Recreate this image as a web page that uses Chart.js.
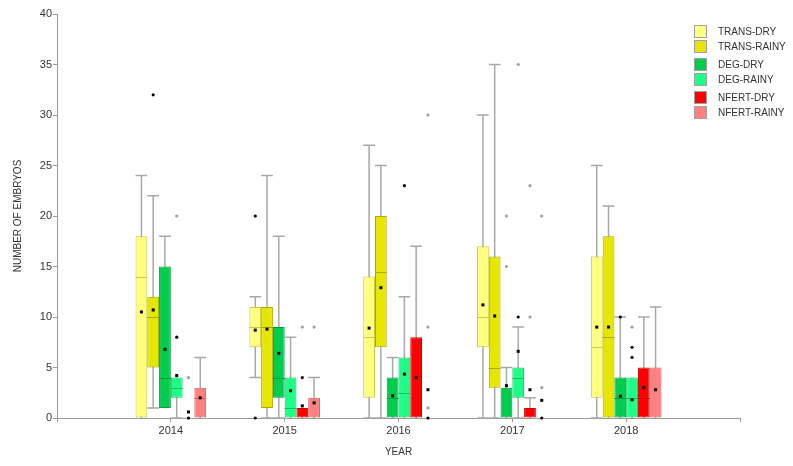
<!DOCTYPE html>
<html>
<head>
<meta charset="utf-8">
<script src="https://cdn.jsdelivr.net/npm/chart.js@4.4.1/dist/chart.umd.min.js"></script>
<style>
  html, body { margin: 0; padding: 0; background: #fff; }
  #wrap { position: relative; width: 793px; height: 466px; }
  #legend { position: absolute; left: 694px; top: 24px; font-family: "Liberation Sans", Arial, sans-serif; font-size: 10px; color: #333; }
  .item { display: flex; align-items: center; height: 15px; }
  .item.gap { margin-bottom: 3px; }
  .sw { width: 11px; height: 11px; border: 1px solid #a0a0a0; margin-right: 11px; box-sizing: content-box; }
</style>
</head>
<body>
<div id="wrap">
  <canvas id="c" width="793" height="466"></canvas>
  <div id="legend"></div>
</div>
<script>
// ---- data ----
const years = [2014, 2015, 2016, 2017, 2018];
const seriesNames = ['TRANS-DRY', 'TRANS-RAINY', 'DEG-DRY', 'DEG-RAINY', 'NFERT-DRY', 'NFERT-RAINY'];
const yTicks = [0, 5, 10, 15, 20, 25, 30, 35, 40];

// each row: [lower whisker, Q1, median, Q3, upper whisker, mean]
const transDry   = [[0,0,14,18,24,10.5],[4,7,9,11,12,8.7],[0,2,8,14,27,8.9],[0,7,10,17,30,11.2],[0,2,7,16,25,9.0]];
const transRainy = [[1,5,10,12,22,10.7],[0,1,9,11,24,8.8],[0,7,14.5,20,25,12.9],[0,3,5,16,35,10.1],[0,0,8,18,21,9.0]];
const degDry     = [[1,1,4,15,18,6.8],[0,2,4,9,18,6.4],[0,0,2,4,6,2.2],[0,0,0,3,5,3.2],[0,0,2,4,10,2.15]];
const degRainy   = [[0,2,3,4,4,4.2],[0,0,1,4,8,2.7],[0,0,2.5,6,12,4.35],[0,2,4,5,9,6.6],[0,0,2,4,4,1.8]];
const nfertDry   = [[0,0,0,0,0,0.6],[0,0,0,1,1,1.2],[0,0,0,8,17,4.0],[0,0,0,1,2,2.8],[0,0,2,5,10,3.0]];
const nfertRainy = [[0,0,2,3,6,2.0],[0,0,0,2,4,1.5],[0,0,0,0,0,2.8],[0,0,0,0,0,1.75],[0,0,0,5,11,2.8]];

// outliers per year: mild (grey) and far (black)
const transDryMild   = [[],[],[],[],[]];
const transDryFar    = [[],[20,0],[],[],[]];
const transRainyMild = [[],[],[],[],[]];
const transRainyFar  = [[32],[],[],[],[]];
const degDryMild     = [[],[],[],[20,15],[]];
const degDryFar      = [[],[],[],[],[10]];
const degRainyMild   = [[20],[],[],[35],[9]];
const degRainyFar    = [[8],[],[23],[10],[7,6]];
const nfertDryMild   = [[4],[9],[],[23,10],[]];
const nfertDryFar    = [[0],[4],[],[],[]];
const nfertRainyMild = [[],[9],[30,9,1],[20,3],[]];
const nfertRainyFar  = [[],[],[0],[0],[]];

const fills   = ['#FFFF80', '#E6E600', '#00CC4E', '#1EFF88', '#FF0000', '#FF8080'];
const borders = ['#C8C848', '#A8A800', '#009A38', '#10C060', '#C80000', '#D06060'];

const stats = [transDry, transRainy, degDry, degRainy, nfertDry, nfertRainy];
const milds = [transDryMild, transRainyMild, degDryMild, degRainyMild, nfertDryMild, nfertRainyMild];
const fars  = [transDryFar, transRainyFar, degDryFar, degRainyFar, nfertDryFar, nfertRainyFar];

const datasets = seriesNames.map((name, i) => ({
  label: name,
  data: years.map((yr, j) => ({ x: yr, y: [stats[i][j][1], stats[i][j][3]] })),
  backgroundColor: fills[i],
  borderColor: borders[i],
  borderWidth: 1,
  borderSkipped: false,
  categoryPercentage: 0.62,
  barPercentage: 1.0,
  boxStats: stats[i],
  mild: milds[i],
  far: fars[i]
}));

const whiskerColor = '#a8a8a8';

const boxPlugin = {
  id: 'boxplot',
  beforeDatasetsDraw(chart) {
    const ctx = chart.ctx, ys = chart.scales.y;
    ctx.save();
    ctx.strokeStyle = whiskerColor;
    ctx.lineWidth = 1.5;
    chart.data.datasets.forEach((ds, i) => {
      chart.getDatasetMeta(i).data.forEach((bar, j) => {
        const s = ds.boxStats[j];
        const x = bar.x, hw = bar.width / 2;
        const pLow = ys.getPixelForValue(s[0]);
        const pHigh = ys.getPixelForValue(s[4]);
        ctx.beginPath();
        ctx.moveTo(x, pLow); ctx.lineTo(x, pHigh);
        if (s[4] > s[3]) { ctx.moveTo(x - hw, pHigh); ctx.lineTo(x + hw, pHigh); }
        if (s[0] < s[1]) { ctx.moveTo(x - hw, pLow); ctx.lineTo(x + hw, pLow); }
        ctx.stroke();
      });
    });
    ctx.restore();
  },
  afterDatasetsDraw(chart) {
    const ctx = chart.ctx, ys = chart.scales.y;
    ctx.save();
    chart.data.datasets.forEach((ds, i) => {
      chart.getDatasetMeta(i).data.forEach((bar, j) => {
        const s = ds.boxStats[j];
        const x = bar.x, hw = bar.width / 2;
        if (s[3] > s[1] && s[2] > s[1] && s[2] < s[3] || (s[2] === s[1] && s[3] > s[1] && s[2] > 0)) {
          const pm = Math.round(ys.getPixelForValue(s[2])) + 0.5;
          ctx.strokeStyle = ds.borderColor;
          ctx.lineWidth = 1;
          ctx.beginPath();
          ctx.moveTo(x - hw, pm); ctx.lineTo(x + hw, pm);
          ctx.stroke();
        }
        ds.mild[j].forEach(v => {
          ctx.fillStyle = '#a0a0a0';
          ctx.beginPath(); ctx.arc(x, ys.getPixelForValue(v), 1.6, 0, Math.PI * 2); ctx.fill();
        });
        ds.far[j].forEach(v => {
          ctx.fillStyle = '#000';
          ctx.beginPath(); ctx.arc(x, ys.getPixelForValue(v), 1.6, 0, Math.PI * 2); ctx.fill();
        });
        const pMean = ys.getPixelForValue(s[5]);
        ctx.fillStyle = '#000';
        ctx.fillRect(x - 1.5, pMean - 1.5, 3, 3);
      });
    });
    ctx.restore();
  }
};

const tickFont = { family: '"Liberation Sans", Arial, sans-serif', size: 11 };
const titleFont = { family: '"Liberation Sans", Arial, sans-serif', size: 10 };

new Chart(document.getElementById('c'), {
  type: 'bar',
  data: { datasets },
  options: {
    responsive: false,
    animation: false,
    layout: { padding: { top: 14, right: 53, left: 0, bottom: 0 } },
    plugins: { legend: { display: false }, tooltip: { enabled: false } },
    scales: {
      x: {
        type: 'linear',
        min: 2013, max: 2019,
        offset: false,
        afterBuildTicks(scale) { scale.ticks = [2013,2014,2015,2016,2017,2018,2019].map(v => ({ value: v })); },
        afterFit(scale) { scale.height = 48; },
        ticks: {
          stepSize: 1,
          autoSkip: false,
          maxRotation: 0,
          padding: 2,
          color: '#333',
          font: tickFont,
          callback: v => (years.includes(v) ? String(v) : '')
        },
        grid: { offset: false, drawOnChartArea: false, drawTicks: true, tickLength: 4, color: '#9a9a9a' },
        border: { color: '#9a9a9a', width: 1 },
        title: { display: true, text: 'YEAR', color: '#333', font: titleFont, padding: { top: 0, bottom: 8 } }
      },
      y: {
        min: 0, max: 40,
        afterBuildTicks(scale) { scale.ticks = yTicks.map(v => ({ value: v })); },
        afterFit(scale) { scale.width = 57; },
        ticks: { padding: 1, color: '#333', font: tickFont },
        grid: { drawOnChartArea: false, drawTicks: true, tickLength: 4, color: '#9a9a9a' },
        border: { color: '#9a9a9a', width: 1 },
        title: { display: true, text: 'NUMBER OF EMBRYOS', color: '#333', font: titleFont, padding: { top: 12, bottom: 0 } }
      }
    }
  },
  plugins: [boxPlugin]
});

// legend as real text, built from the same series names and colours
const legend = document.getElementById('legend');
seriesNames.forEach((name, i) => {
  const it = document.createElement('div');
  it.className = 'item' + (i % 2 === 1 ? ' gap' : '');
  const sw = document.createElement('div');
  sw.className = 'sw';
  sw.style.background = fills[i];
  const tx = document.createElement('span');
  tx.textContent = name;
  it.appendChild(sw); it.appendChild(tx);
  legend.appendChild(it);
});
</script>
</body>
</html>
